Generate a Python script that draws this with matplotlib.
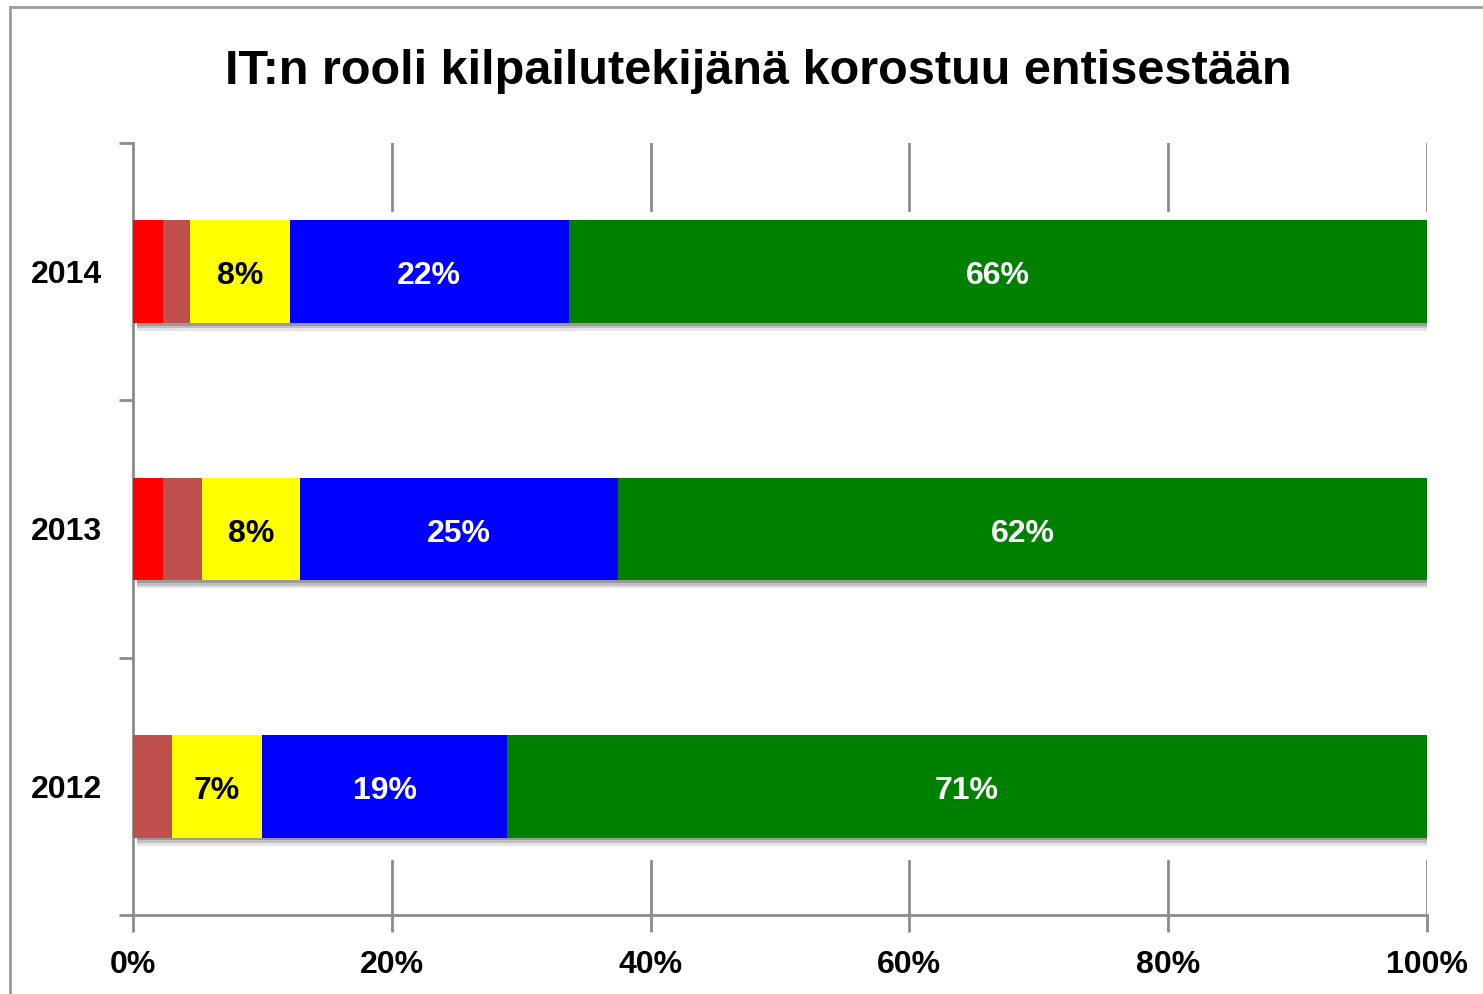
import matplotlib
matplotlib.use("Agg")
import matplotlib.pyplot as plt
from matplotlib.patches import Rectangle

plt.rcParams['font.family'] = ['Liberation Sans', 'DejaVu Sans']

years = ["2012", "2013", "2014"]
red = [0.0, 2.3, 2.3]
brown = [3.0, 3.0, 2.1]
yellow = [7.0, 7.6, 7.7]
blue = [18.9, 24.6, 21.6]
green = [71.1, 62.5, 66.3]

series = [red, brown, yellow, blue, green]
colors = ["#FF0000", "#C0504D", "#FFFF00", "#0000FF", "#008000"]
label_colors = [None, None, "black", "white", "white"]
title = "IT:n rooli kilpailutekijänä korostuu entisestään"
xticks = [0, 20, 40, 60, 80, 100]

fig = plt.figure(figsize=(14.83, 9.94), dpi=100)
ax = fig.add_axes([133 / 1483, 1 - 915 / 994, (1427 - 133) / 1483, (915 - 143) / 994])

# figure border (only left and top edges fall inside the image)
fig.patches.append(Rectangle((10 / 1483, -0.1), 1.2, 1.1 - 7 / 994, transform=fig.transFigure,
                             fill=False, edgecolor="#9a9a9a", linewidth=2))

grey = "#8c8c8c"
ypos = list(range(len(years)))
h = 0.4

left = [0.0] * len(years)
for vals, col, lc in zip(series, colors, label_colors):
    # soft shadow under each segment
    for k, a in enumerate([0.15, 0.25, 0.35]):
        off = 0.01 * (3 - k)
        ax.barh([y - off for y in ypos], vals, left=[l + 0.3 for l in left],
                height=h, color="#555555", alpha=a, linewidth=0, zorder=1)
    ax.barh(ypos, vals, left=left, height=h, color=col, linewidth=0, zorder=3)
    if lc is not None:
        for y, v, l in zip(ypos, vals, left):
            ax.text(l + v / 2, y - 0.018, f"{v:.0f}%", ha="center", va="center", color=lc,
                    fontsize=23, fontweight="bold", zorder=4)
    left = [l + v for l, v in zip(left, vals)]

ax.set_xlim(0, 100)
ax.set_ylim(-0.5, 2.5)

# gridlines only show above the top bar and below the bottom bar
for x in xticks[1:]:
    ax.axvline(x, ymin=(2.24 + 0.5) / 3, ymax=1, color=grey, linewidth=2, zorder=0)
    ax.axvline(x, ymin=0, ymax=(-0.29 + 0.5) / 3, color=grey, linewidth=2, zorder=0)

ax.set_xticks(xticks)
ax.set_xticklabels([f"{x}%" for x in xticks], fontsize=23, fontweight="bold")
ax.set_yticks(ypos)
ax.set_yticklabels(years, fontsize=23, fontweight="bold")
ax.set_yticks([-0.5, 0.5, 1.5, 2.5], minor=True)
ax.tick_params(axis="y", which="major", length=0, pad=22)
ax.tick_params(axis="y", which="minor", length=10, width=2, color=grey)
ax.tick_params(axis="x", which="major", length=12, width=2, color=grey, pad=13, direction="out")

for s in ["top", "right"]:
    ax.spines[s].set_visible(False)
for s in ["left", "bottom"]:
    ax.spines[s].set_color(grey)
    ax.spines[s].set_linewidth(2)

fig.text(758 / 1483, 1 - 72 / 994, title, ha="center", va="center", fontsize=35, fontweight="bold")

fig.savefig("out.png", dpi=100)
